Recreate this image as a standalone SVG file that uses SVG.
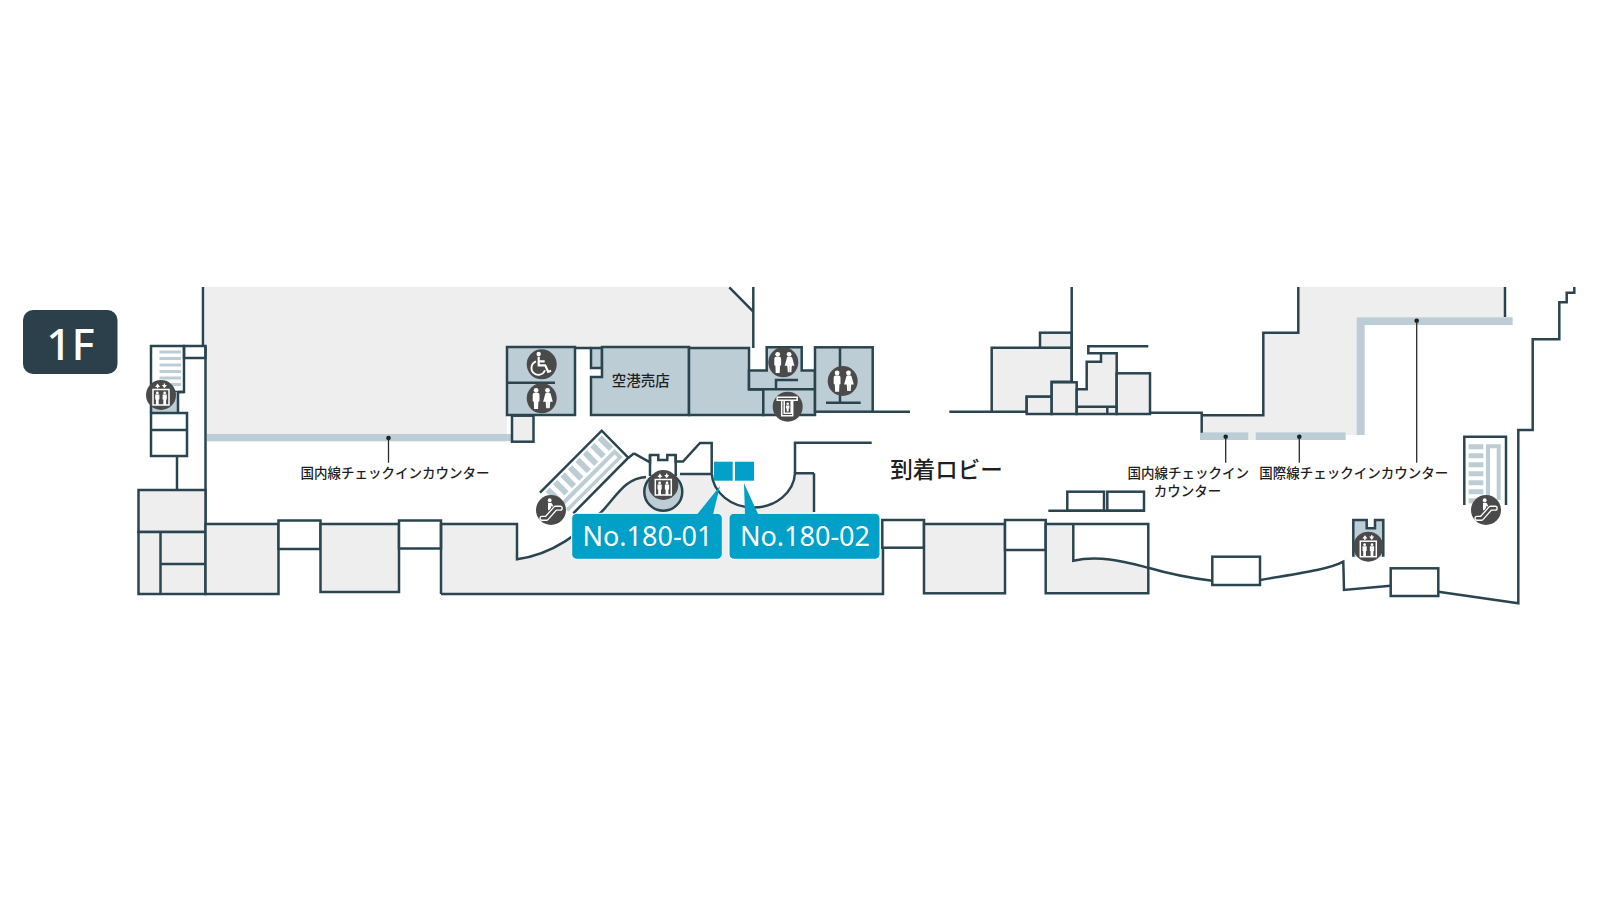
<svg xmlns="http://www.w3.org/2000/svg" width="1600" height="900" viewBox="0 0 1600 900">
<style>
.s{stroke:#2b4550;stroke-width:2.5;fill:none;stroke-linejoin:miter}
.g{fill:#eeeeef}
.b{fill:#bccdd6}
.w{fill:#fff}
.ic{fill:#4a4a4b}
.wht{fill:#fff}
.wl{fill:none;stroke:#fff;stroke-width:1.5}
.lead{stroke:#2a2a2a;stroke-width:1.3;fill:none}
.t{font-family:"Noto Sans CJK JP","Noto Sans",sans-serif;fill:#1f1f1f;text-anchor:middle;font-weight:500}
.tag{fill:#00a0c8}
.tagt{font-family:"Noto Sans","Open Sans",sans-serif;font-size:27px;fill:#fff;text-anchor:middle}
</style>
<defs>
<g id="ic-wc">
<circle class="ic" r="15"/>
<circle class="wht" cx="-5.6" cy="-8" r="2.4"/>
<path class="wht" d="M-9-3.6q0-1.9 1.9-1.9h3q1.9 0 1.9 1.900v6.500l-1.100.5-.3 7.300h-4l-.3-7.300-1.100-.5z"/>
<circle class="wht" cx="5.800" cy="-8" r="2.400"/>
<path class="wht" d="M4-5.500h3.600q1 0 1.300 1l2.200 8h-2.600l-.5 6.500h-1.600v-6.500h-.2v6.500h-1.700l-.5-6.500h-2.600l2.200-8q.3-1 1.300-1z"/>
</g>
<g id="ic-dis">
<circle class="ic" r="15"/>
<circle class="wht" cx="-3" cy="-10.300" r="2.200"/>
<path d="M-3-7.500v8.500h6.500l3 6.500 2.900-1.100M-3-3h6" fill="none" stroke="#fff" stroke-width="2.200"/>
<path d="M-5.700-3a7 7 0 1 0 9 9" fill="none" stroke="#fff" stroke-width="1.800"/>
</g>
<g id="ic-ev">
<circle class="ic" r="15"/>
<rect class="wl" x="-8" y="-5.500" width="16" height="15.500"/>
<circle class="wht" cx="-3.700" cy="-2" r="1.400"/>
<path class="wht" d="M-5.800-.4h4.200v4.800h-.7v5.600h-2.800v-5.600h-.7z"/>
<circle class="wht" cx="3.700" cy="-2" r="1.400"/>
<path class="wht" d="M1.600-.4h4.200v4.800h-.7v5.600h-2.800v-5.600h-.7z"/>
<path class="wht" d="M-3.400-11.500l2.500 3.400h-1.800v1.400h-1.400v-1.400h-1.800zM3.400-6.700l2.500-3.400h-1.800v-1.400h-1.400v1.400h-1.800z"/>
</g>
<g id="ic-es">
<circle class="ic" r="15"/>
<path d="M-9 8.300h4.500L4.500-1.800h4.700" fill="none" stroke="#fff" stroke-width="5.200" stroke-linecap="round" stroke-linejoin="round"/>
<path d="M-9 8.300h4.500L4.500-1.800h4.700" fill="none" stroke="#4a4a4b" stroke-width="2.600" stroke-linecap="round" stroke-linejoin="round"/>
<circle class="wht" cx="-1.300" cy="-9.800" r="1.900"/>
<path class="wht" d="M-3-7.200h3.400l1.800 3-1 1-1-1.200v2.200l-2.500 2.700-.7-.6z"/>
</g>
<g id="ic-atm">
<circle class="ic" r="15"/>
<path class="wl" d="M-10.500-9.500h20v3h-20zM-6-6.500v15.500h11v-15.500M-3.500-6.500v13h7v-13"/>
<circle class="wht" cx="0" cy="-3" r="1.300"/>
<path class="wht" d="M-1.700-1.300h3.400v3.200h-.7v3h-2v-3h-.7z"/>
</g>
</defs>

<g id="floor-fills">
<path class="g" d="M205 287H729L753 311.700V348H507V434H205z"/>
<path class="g" d="M441 524H517V559.300C555 554 580 532 601.700 511.700C616 497 625 478 646 477L711.700 474A41.700 36 0 0 0 795 473.300H814V520H883V594H441z"/>
<path class="g" d="M1298.300 287H1505V317H1357V435H1345.700V432.500H1201.700V415.300H1263.300V332.700H1298.300z"/>
<path class="g" d="M1248 432H1256V440H1248z"/>
</g>

<g id="counters">
<rect class="b" x="207" y="434" width="304" height="7.300"/>
<path class="b" d="M1356.700 317.300H1512.700V325H1364.700V435H1356.700z"/>
<rect class="b" x="1200" y="432.300" width="48.300" height="7.700"/>
<rect class="b" x="1255.700" y="432.300" width="90" height="7.700"/>
</g>

<g id="left-core">
<path class="s" d="M203 287V346"/>
<rect class="s w" x="151" y="346" width="33" height="46"/>
<path class="b" d="M159.500 350.500h21.500v3h-21.500zM159.500 357h21.500v3h-21.500zM159.500 363.500h21.500v3h-21.500zM159.500 370h21.500v3h-21.500zM159.500 376.500h21.500v3h-21.500zM159.500 383h21.500v3h-21.500z"/>
<rect class="s" x="184" y="346" width="21.500" height="12"/>
<path class="b" d="M152 392H178V413H152z"/>
<path class="s" d="M151 392V413M178 392V413M184 392H178"/>
<rect class="s w" x="151" y="413" width="36" height="43"/>
<path class="s" d="M151 430H187M177 456V490M205.500 346V594"/>
</g>

<g id="south-rooms">
<rect class="s g" x="138.500" y="490" width="67" height="42"/>
<rect class="s g" x="138.500" y="532" width="67" height="62"/>
<path class="s" d="M160.500 532V594M160.500 564H205.500"/>
<rect class="s g" x="205.500" y="524" width="73" height="70"/>
<rect class="s w" x="278.500" y="520.500" width="42" height="28.500"/>
<rect class="s g" x="320.500" y="524" width="78.500" height="68"/>
<rect class="s w" x="399" y="520.500" width="42" height="28"/>
<rect class="s w" x="882.300" y="520" width="41.700" height="27.700"/>
<rect class="s g" x="924" y="524" width="81" height="69.300"/>
<rect class="s w" x="1005" y="520" width="40.700" height="30"/>
<path class="g" d="M1045.700 524H1073.300V560.700C1100 555 1125 562 1148.300 567.700V593.300H1045.700z"/>
<path class="s" d="M1045.700 593.300V524H1148.300V593.300zM1073.300 524V560.700C1100 555 1125 562 1148.300 567.700"/>
<rect class="s w" x="1067.300" y="491.700" width="36.700" height="19"/>
<rect class="s w" x="1107.300" y="491.700" width="36.700" height="19"/>
<path class="s" d="M1048.300 510.700H1144"/>
</g>

<g id="centre-walls">
<path class="s" d="M441 594V524H517V559.300C555 554 580 532 601.700 511.700C616 497 625 478 646 477"/>
<path class="s" d="M441 594H883V547M814 473.300V512"/>
<path class="s" d="M680 474H711.700M711.700 473.300A41.700 36 0 0 0 795 473.300H814"/>
<path class="s" d="M634 453.300L650 462.300V455H658.300V460H667.300V455H675.700V461.500H683L700 443H711.700V473.300"/>
<path class="s" d="M650 455V476M675.700 455V476"/>
<path class="s" d="M795 473.300V442.700H871.700"/>
</g>

<g id="shop-rooms">
<rect class="s b" x="507" y="347" width="68" height="68"/>
<path class="s" d="M507 382.700H555M575 348H591"/>
<rect class="s b" x="591" y="348" width="11" height="20"/>
<path class="s b" d="M602 347H689V415H591V377H602z"/>
<path class="s b" d="M689 348H749V389.300H763.300V415H689z"/>
<path class="s" d="M753.300 287V348M729.300 287.300L753.300 311.700"/>
<rect class="s g" x="512" y="415.700" width="21.500" height="26"/>
<path class="s b" d="M749 370.500H766.700V347.300H801.700V370.500H815V415H763.300V389.300H749z"/>
<path class="s" d="M749 389.300H815M776 389.300V380H798"/>
<rect class="s b" x="815" y="347.300" width="57.700" height="64.400"/>
<path class="s" d="M840 347.300V402.700M826 402.700H860.700M872.700 411.700H910"/>
</g>

<g id="north-rooms">
<path class="s" d="M949.300 411.700H991.700"/>
<path class="s g" d="M991.700 347.700H1071.700V381.700H1051.700V396.700H1026.700V411.700H991.700z"/>
<rect class="s g" x="1040" y="332.700" width="31.700" height="15"/>
<path class="s" d="M1071.700 287V381.700"/>
<rect class="s g" x="1026.700" y="396.700" width="25" height="17.300"/>
<rect class="s g" x="1051.700" y="382.300" width="25" height="31.700"/>
<path class="s g" d="M1076.700 389.300H1086.700V361.700H1101V353.300H1116.700V414H1076.700z"/>
<path class="s" d="M1076.700 406.700H1116.700M1107.300 406.700V414M1148.300 346.300H1088.300V353.300H1101"/>
<rect class="s g" x="1116.700" y="373.300" width="33.300" height="40.700"/>
<path class="s" d="M1150 412.700H1201.700V432.700M1201.700 415.300H1263.300V332.700H1298.300V287M1505 287V317"/>
<path class="s" d="M1260 580C1295 574 1328 570 1343.300 561.700L1344 590L1390.700 585.700M1438.300 591.700L1518.300 603.300V430H1532.700V339.300H1559.300V302.300H1566.700V292.700H1574.300V287"/>
<path class="s" d="M1148.300 567.700C1170 574 1190 578 1212.300 580.700"/>
<rect class="s w" x="1212.300" y="556.700" width="47.700" height="28.300"/>
<rect class="s w" x="1390.700" y="568.300" width="47.600" height="27.700"/>
</g>

<g id="escalator-centre">
<g transform="translate(540 491.700) rotate(-45)">
<path class="b" d="M4 4h6v16h-6zM14.500 4h6v16h-6zM25 4h6v16h-6zM35.500 4h6v16h-6zM46 4h6v16h-6zM56.500 4h6v16h-6zM67 4h6v16h-6zM77.500 4h6v16h-6z"/>
<path class="b" d="M6 22.500H83V34H6zM6 26.500V30.500H79V26.500z" fill-rule="evenodd"/>
</g>
<path class="s" d="M540 492.700L601.700 430.700L628.300 457.700L573.300 513.300M628.300 458L634 453.300"/>
</g>

<g id="elevator-centre">
<circle class="s b" cx="663.300" cy="491.700" r="19"/>
<use href="#ic-ev" x="663.300" y="485"/>
</g>

<g id="elevator-east">
<path class="b" d="M1353.300 520H1366.700V528.300H1375V520H1383.300V556.700H1353.300z"/>
<path class="s" d="M1353.300 556.700V520H1366.700V528.300H1375V520H1383.300V556.700"/>
<use href="#ic-ev" x="1368.300" y="546.700"/>
</g>

<g id="escalator-east">
<path class="b" d="M1468.700 444.300h14.600v5h-14.600zM1468.700 453.300h14.600v5h-14.600zM1468.700 462.300h14.600v5h-14.600zM1468.700 471.300h14.600v5h-14.600zM1468.700 480.300h14.600v5h-14.600zM1468.700 489.300h14.600v5h-14.600zM1468.700 498.300h14.600v5h-14.600z"/>
<path class="b" d="M1486 444.300H1500.700V500H1486zM1490 448.300V500H1496.700V448.300z" fill-rule="evenodd"/>
<path class="s" d="M1464.300 505V436.700H1506V505"/>
<use href="#ic-es" x="1486" y="510"/>
</g>

<g id="icons">
<use href="#ic-ev" x="161" y="395"/>
<use href="#ic-dis" x="541.700" y="364.300"/>
<use href="#ic-wc" x="541.700" y="398.300"/>
<use href="#ic-wc" x="783.300" y="362.300"/>
<use href="#ic-atm" x="787.700" y="406.700"/>
<use href="#ic-wc" x="842.700" y="381"/>
<use href="#ic-es" x="551" y="510"/>
</g>

<g id="leaders">
<circle cx="388.500" cy="438" r="2.300" fill="#1f1f1f"/>
<path class="lead" d="M388.500 438V462.700"/>
<circle cx="1225.700" cy="436.700" r="2.300" fill="#1f1f1f"/>
<path class="lead" d="M1225.700 436.700V462.700"/>
<circle cx="1299.300" cy="436.700" r="2.300" fill="#1f1f1f"/>
<path class="lead" d="M1299.300 436.700V462.700"/>
<circle cx="1416.700" cy="320.700" r="2.300" fill="#1f1f1f"/>
<path class="lead" d="M1416.700 320.700V462.700"/>
</g>

<g id="labels">
<text class="t" x="395" y="477.700" font-size="13.500">国内線チェックインカウンター</text>
<text class="t" x="640.800" y="386" font-size="14.500">空港売店</text>
<text class="t" x="946.500" y="478" font-size="22.500">到着ロビー</text>
<text class="t" x="1188.300" y="477.700" font-size="13.500">国内線チェックイン</text>
<text class="t" x="1187.500" y="495.500" font-size="13.500">カウンター</text>
<text class="t" x="1353.800" y="477.700" font-size="13.500">国際線チェックインカウンター</text>
</g>

<g id="floor-badge">
<rect x="23" y="310" width="94.500" height="64" rx="10" fill="#2b404a"/>
<text x="70.500" y="360" font-family="'Noto Sans',sans-serif" font-size="44" font-weight="500" fill="#fff" text-anchor="middle">1F</text>
</g>

<g id="tag-180-01">
<rect class="tag" x="714" y="461.700" width="18.700" height="19"/>
<rect class="tag" x="571.700" y="513.300" width="150.600" height="46" rx="5" stroke="#fff" stroke-width="1"/>
<path class="tag" d="M720 486L697 514.500H713z"/>
<text class="tagt" x="647.500" y="545.700">No.180-01</text>
</g>
<g id="tag-180-02">
<rect class="tag" x="735" y="461.700" width="19" height="19"/>
<rect class="tag" x="729" y="513.300" width="151" height="46" rx="5" stroke="#fff" stroke-width="1"/>
<path class="tag" d="M744 483.300L745 514.500H758.300z"/>
<text class="tagt" x="805" y="545.700">No.180-02</text>
</g>
</svg>
